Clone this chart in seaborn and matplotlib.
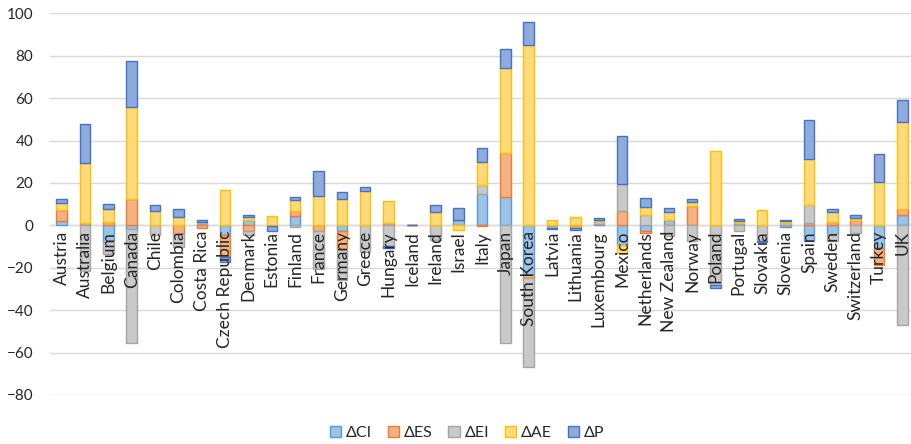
import numpy as np
import pandas as pd
import matplotlib
matplotlib.use("Agg")
import matplotlib.pyplot as plt
import seaborn as sns
from matplotlib.patches import Patch

countries = ["Austria", "Australia", "Belgium", "Canada", "Chile", "Colombia",
             "Costa Rica", "Czech Republic", "Denmark", "Estonia", "Finland",
             "France", "Germany", "Greece", "Hungary", "Iceland", "Ireland",
             "Israel", "Italy", "Japan", "South Korea", "Latvia", "Lithuania",
             "Luxembourg", "Mexico", "Netherlands", "New Zealand", "Norway",
             "Poland", "Portugal", "Slovakia", "Slovenia", "Spain", "Sweden",
             "Switzerland", "Turkey", "UK"]

d_ci = [2.2, 0.0, -7.9, -1.6, 0.0, 0.0, 0.5, -4.7, 2.4, 0.0, 4.3, 0.0, -2.8,
        0.0, 0.0, 0.3, 0.0, 2.7, 14.6, 13.3, -23.4, -0.3, 0.0, 0.8, -9.2,
        -2.5, 2.7, 0.0, 0.0, 1.1, 0.0, -0.8, -7.3, -4.0, 0.0, -10.8, 5.1]
d_es = [5.2, 1.0, 1.6, 12.2, 0.0, -4.0, -1.3, -10.0, -2.5, 0.0, 2.4, -2.8,
        -8.2, 0.0, 1.1, 0.0, 0.0, 0.0, -0.5, 20.6, -1.3, 0.0, -1.3, 0.0, 7.0,
        -1.0, 0.0, 9.0, 0.0, 0.0, 0.0, 0.0, 1.1, 1.6, 2.7, -7.9, 2.8]
d_ei = [0.0, -21.5, -5.7, -53.8, -4.7, -6.0, 1.0, 0.0, -1.9, -0.5, -1.0,
        -17.9, -14.7, -12.8, -9.5, 0.0, -6.8, 0.0, 4.4, -55.4, -42.2, -1.0,
        0.0, 1.1, 12.7, 5.1, -5.2, -7.6, -28.2, -2.8, -7.3, 1.1, 8.7, -3.3,
        -3.6, 0.0, -47.2]
d_ae = [3.2, 28.5, 6.3, 43.8, 7.0, 3.8, 0.3, 16.5, 1.4, 4.6, 5.2, 13.8, 12.5,
        16.1, 10.6, 0.0, 6.2, -2.4, 10.9, 40.5, 85.0, 2.4, 3.8, 0.8, -4.0,
        3.5, 3.5, 1.9, 35.1, 0.8, 7.1, 0.8, 21.4, 4.6, 0.9, 20.4, 40.7]
d_p = [1.9, 18.2, 2.4, 21.5, 2.7, 4.0, 0.6, -2.4, 1.3, -2.0, 1.4, 11.6, 3.3,
       1.9, -1.0, 0.0, 3.5, 5.5, 6.6, 9.0, 11.1, -0.6, -1.0, 0.8, 22.6, 4.4,
       2.1, 1.3, -1.3, 0.9, -0.6, 0.5, 18.7, 1.3, 1.5, 13.4, 10.6]

series_names = ["ΔCI", "ΔES", "ΔEI", "ΔAE", "ΔP"]
series_values = [d_ci, d_es, d_ei, d_ae, d_p]
fills = ["#9DC3E6", "#F4B183", "#C9C9C9", "#FFD97A", "#8FAADC"]
edges = ["#5B9BD5", "#ED7D31", "#A5A5A5", "#FFC000", "#4472C4"]

sns.set_theme(style="white")
plt.rcParams["font.family"] = ["Lato", "DejaVu Sans"]

fig = plt.figure(figsize=(9.11, 4.44), dpi=100)
ax = fig.add_axes([50 / 911, 1 - 395 / 444, 864 / 911, (395 - 13.3) / 444])

# Excel-style stacking: positives build up from zero, negatives build down
pos_base = np.zeros(len(countries))
neg_base = np.zeros(len(countries))
for name, vals, fc, ec in zip(series_names, series_values, fills, edges):
    v = np.asarray(vals, dtype=float)
    bottom = np.where(v >= 0, pos_base, neg_base)
    df = pd.DataFrame({"country": countries, "value": v})
    sns.barplot(data=df, x="country", y="value", order=countries,
                bottom=bottom, width=0.45, color=fc, edgecolor=ec,
                linewidth=1.0, errorbar=None, saturation=1, ax=ax, zorder=3)
    pos_base = pos_base + np.where(v > 0, v, 0)
    neg_base = neg_base + np.where(v < 0, v, 0)

ax.set_ylim(-80, 100)
ax.set_xlim(-0.5, 36.5)
ax.set_yticks(np.arange(-80, 101, 20))
ax.yaxis.grid(True, color="#D9D9D9", linewidth=1.0, zorder=0)
ax.set_axisbelow(True)
ax.axhline(0, color="#D9D9D9", linewidth=1.0, zorder=2)
for s in ax.spines.values():
    s.set_visible(False)
ax.tick_params(axis="y", length=0, labelsize=11, labelcolor="#262626", pad=12)
ax.set_xticks([])
ax.set_xlabel("")
ax.set_ylabel("")

# Category labels sit just under the zero line, over the bars
for i, name in enumerate(countries):
    ax.annotate(name, xy=(i, 0), xytext=(0, -4), textcoords="offset points",
                rotation=90, ha="center", va="top", fontsize=12.5,
                color="#262626", zorder=5)

handles = [Patch(facecolor=fc, edgecolor=ec, linewidth=1.0)
           for fc, ec in zip(fills, edges)]
fig.legend(handles, series_names, loc="center", bbox_to_anchor=(467 / 911, 1 - 433 / 444),
           ncol=5, frameon=False, fontsize=11.5, handlelength=0.7, handleheight=0.7,
           handletextpad=0.3, columnspacing=1.0, labelcolor="#262626")

fig.savefig("out.png", dpi=100)
